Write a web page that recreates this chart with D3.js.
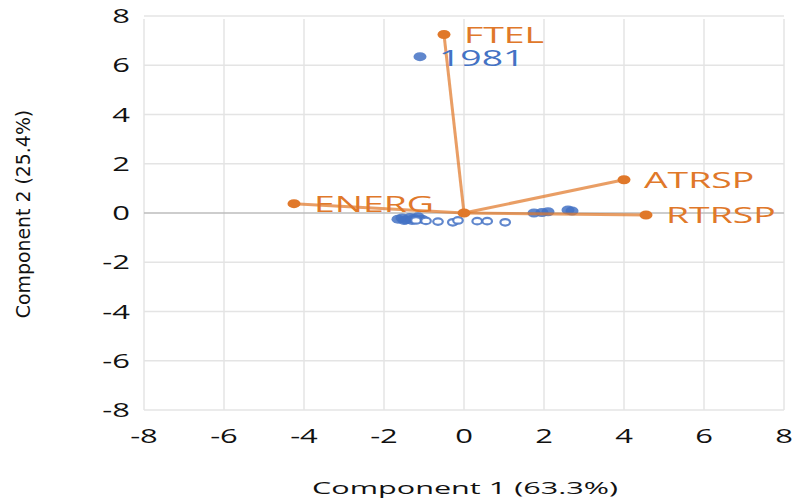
<!DOCTYPE html>
<html>
<head>
<meta charset="utf-8">
<script src="https://cdn.jsdelivr.net/npm/d3@7"></script>
<style>
  body { margin: 0; background: #fff; }
  svg { display: block; }
</style>
</head>
<body>
<div id="chart"></div>
<script>
// --- Data ---
const loadingNames = ["FTEL", "ATRSP", "ENERG", "RTRSP"];
const loadingX = [-0.5, 4.0, -4.25, 4.55];
const loadingY = [7.25, 1.35, 0.38, -0.08];

// scores (filled markers)
const scoreX = [-1.1, -1.65, -1.55, -1.45, -1.35, -1.25, -1.15, -1.05, -1.5, -1.3, 1.75, 1.95, 2.1, 2.6, 2.7];
const scoreY = [6.35, -0.25, -0.2, -0.28, -0.18, -0.22, -0.15, -0.25, -0.3, -0.3, 0.0, 0.02, 0.05, 0.12, 0.08];
// scores (hollow markers)
const ringX = [-1.2, -0.95, -0.65, -0.28, -0.15, 0.33, 0.58, 1.03];
const ringY = [-0.3, -0.32, -0.35, -0.38, -0.3, -0.33, -0.33, -0.38];
const pointLabel = { text: "1981", x: -1.1, y: 6.35 };

const ticks = [-8, -6, -4, -2, 0, 2, 4, 6, 8];

const W = 798, H = 500;
const margin = {top: 16, right: 14, bottom: 90, left: 144};
const width = W - margin.left - margin.right;
const height = H - margin.top - margin.bottom;

const svg = d3.select("#chart").append("svg")
    .attr("width", W).attr("height", H);
const g = svg.append("g").attr("transform", `translate(${margin.left},${margin.top})`);

const x = d3.scaleLinear().domain([-8, 8]).range([0, width]);
const y = d3.scaleLinear().domain([-8, 8]).range([height, 0]);

const orange = "#E0782A", blue = "#4472C4";
const SX = 1.55; // horizontal stretch of the text

// gridlines
g.selectAll("line.vg").data(ticks).enter().append("line")
    .attr("x1", d => x(d)).attr("x2", d => x(d))
    .attr("y1", 3).attr("y2", height)
    .attr("stroke", "#e4e4e4").attr("stroke-width", 1.5);
g.selectAll("line.hg").data(ticks).enter().append("line")
    .attr("x1", 0).attr("x2", width)
    .attr("y1", d => y(d)).attr("y2", d => y(d))
    .attr("stroke", d => d === 0 ? "#bdbdbd" : "#e4e4e4").attr("stroke-width", 1.5);

// tick labels
const tickFont = "'Open Sans', sans-serif";
g.selectAll("text.xt").data(ticks).enter().append("text")
    .attr("transform", d => `translate(${x(d)},${height + 33}) scale(${SX},1)`)
    .attr("text-anchor", "middle")
    .style("font-family", tickFont).style("font-size", "20px").attr("fill", "#111")
    .text(d => d);
g.selectAll("text.yt").data(ticks).enter().append("text")
    .attr("transform", d => `translate(${-14},${y(d) + 7}) scale(${SX},1)`)
    .attr("text-anchor", "end")
    .style("font-family", tickFont).style("font-size", "20px").attr("fill", "#111")
    .text(d => d);

// axis titles
svg.append("text")
    .attr("transform", `translate(${465},${494}) scale(1.8,1)`)
    .attr("text-anchor", "middle")
    .style("font-family", tickFont).style("font-size", "17px").attr("fill", "#111")
    .text("Component 1 (63.3%)");
svg.append("text")
    .attr("transform", `translate(${30},${214}) rotate(-90) scale(1.05,1)`)
    .attr("text-anchor", "middle")
    .style("font-family", "'DejaVu Sans Condensed', 'Liberation Sans Narrow', sans-serif")
    .style("font-size", "20px").attr("fill", "#111")
    .text("Component 2 (25.4%)");

// scores
g.selectAll("ellipse.s").data(scoreX.map((v, i) => [v, scoreY[i]])).enter().append("ellipse")
    .attr("cx", d => x(d[0])).attr("cy", d => y(d[1]))
    .attr("rx", 6.5).attr("ry", 4.5)
    .attr("fill", blue).attr("fill-opacity", 0.85);
g.selectAll("ellipse.r").data(ringX.map((v, i) => [v, ringY[i]])).enter().append("ellipse")
    .attr("cx", d => x(d[0])).attr("cy", d => y(d[1]))
    .attr("rx", 4.8).attr("ry", 3.3)
    .attr("fill", "#fff").attr("stroke", blue).attr("stroke-width", 2.2).attr("stroke-opacity", 0.85);

// loadings
const loadings = loadingNames.map((n, i) => ({name: n, x: loadingX[i], y: loadingY[i]}));
g.selectAll("line.ld").data(loadings).enter().append("line")
    .attr("x1", x(0)).attr("y1", y(0))
    .attr("x2", d => x(d.x)).attr("y2", d => y(d.y))
    .attr("stroke", orange).attr("stroke-opacity", 0.72).attr("stroke-width", 3);
g.selectAll("ellipse.ld").data(loadings.concat([{x: 0, y: 0}])).enter().append("ellipse")
    .attr("cx", d => x(d.x)).attr("cy", d => y(d.y))
    .attr("rx", 6.5).attr("ry", 4.5).attr("fill", orange);
g.selectAll("text.ld").data(loadings).enter().append("text")
    .attr("transform", d => `translate(${x(d.x) + 20},${y(d.y) + (d.name === "FTEL" ? 9 : 8)}) scale(1.78,1)`)
    .style("font-family", tickFont).style("font-size", "21px").attr("fill", orange)
    .text(d => d.name);

// label of the outlying score
g.append("text")
    .attr("transform", `translate(${x(pointLabel.x) + 19},${y(pointLabel.y) + 9}) scale(1.78,1)`)
    .style("font-family", tickFont).style("font-size", "21px").attr("fill", blue)
    .text(pointLabel.text);
</script>
</body>
</html>
